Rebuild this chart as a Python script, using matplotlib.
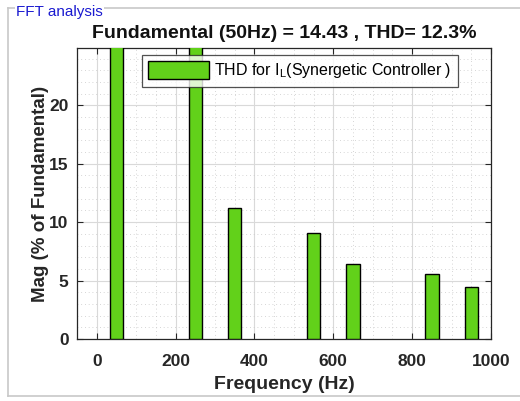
import matplotlib
matplotlib.use("Agg")
import matplotlib.pyplot as plt
from matplotlib.lines import Line2D
from matplotlib.ticker import MultipleLocator

plt.rcParams['font.family'] = ['Liberation Sans', 'DejaVu Sans']

# harmonic spectrum (% of fundamental)
freqs = [50, 250, 350, 550, 650, 850, 950]
mags = [100.0, 27.0, 11.2, 9.05, 6.4, 5.55, 4.45]
title_txt = "Fundamental (50Hz) = 14.43 , THD= 12.3%"
legend_txt = "THD for I$_\\mathregular{L}$(Synergetic Controller )"
xticks = [0, 200, 400, 600, 800, 1000]
yticks = [0, 5, 10, 15, 20]

fig = plt.figure(figsize=(5.2, 4.01), dpi=100)
ax = fig.add_axes([77/520, 1 - 339/401, (491 - 77)/520, (339 - 48)/401])

bars = ax.bar(freqs, mags, width=34, color="#62D11A", edgecolor="black",
              linewidth=1.0, zorder=3)

ax.set_xlim(-50, 1000)
ax.set_ylim(0, 24.9)
ax.set_xticks(xticks)
ax.set_yticks(yticks)
ax.xaxis.set_minor_locator(MultipleLocator(50))
ax.yaxis.set_minor_locator(MultipleLocator(1))
ax.grid(which="major", color="#d9d9d9", linewidth=0.8, zorder=0)
ax.grid(which="minor", color="#c8c8c8", linestyle=(0, (1, 3.5)), linewidth=0.6, zorder=0)
ax.tick_params(which="both", direction="in", top=True, right=True,
               colors="#262626", labelsize=12.5, width=0.8)
ax.tick_params(which="minor", length=0)
ax.tick_params(axis="x", which="major", length=4, pad=11)
ax.tick_params(axis="y", which="major", length=4, pad=6)
for lbl in ax.get_xticklabels() + ax.get_yticklabels():
    lbl.set_fontweight("bold")
for sp in ax.spines.values():
    sp.set_color("#262626")
    sp.set_linewidth(0.9)

ax.set_xlabel("Frequency (Hz)", fontsize=14, fontweight="bold", color="#262626", labelpad=5)
ax.set_ylabel("Mag (% of Fundamental)", fontsize=13.5, fontweight="bold", color="#262626", labelpad=0)
ax.set_title(title_txt, fontsize=14, fontweight="bold", color="#111111", pad=7)

leg = ax.legend([bars[0]], [legend_txt], loc="upper left",
                bbox_to_anchor=((142 - 77)/414, 1 - (55 - 48)/291),
                fontsize=11.5, frameon=True, fancybox=False, edgecolor="#262626",
                handlelength=3.8, handleheight=1.3, borderpad=0.4, handletextpad=0.3,
                borderaxespad=0)
leg.get_frame().set_linewidth(0.9)
leg.set_zorder(5)

# uipanel border with title
fig.add_artist(Line2D([8/520, 8/520], [1 - 396/401, 1 - 8/401], color="#c8c8c8", lw=1.2))
fig.add_artist(Line2D([8/520, 1.0], [1 - 8/401, 1 - 8/401], color="#c8c8c8", lw=1.2))
fig.add_artist(Line2D([8/520, 1.0], [1 - 396/401, 1 - 396/401], color="#c8c8c8", lw=1.2))
fig.text(16/520, 1 - 12/401, "FFT analysis", color="#1a1ad0", fontsize=11,
         va="center", ha="left", family=["Liberation Sans"],
         bbox=dict(facecolor="white", edgecolor="none", pad=1))

fig.savefig("out.png", dpi=100)
